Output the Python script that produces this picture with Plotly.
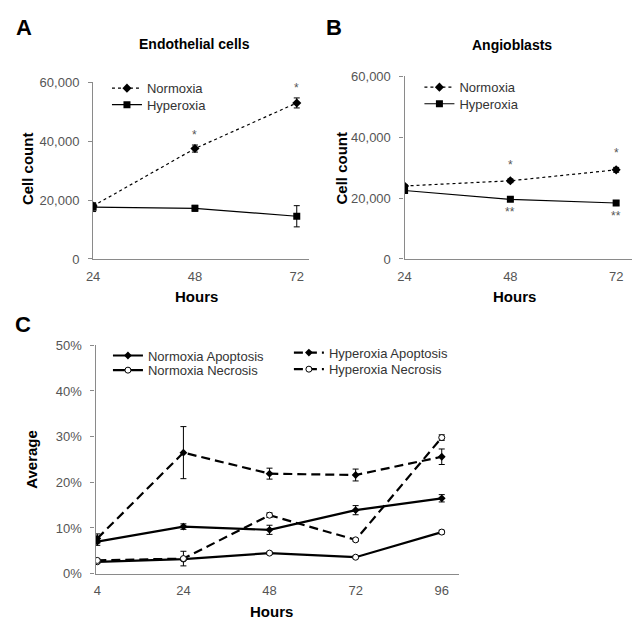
import plotly.graph_objects as go

# page geometry (reference pixel coordinates; the page body has an 8px margin)
W, H = 641, 636
OX, OY = 8, 8
FW, FH = W - 2 * OX, H - 2 * OY

# ---------------- data ----------------
hours_ab = ["24", "48", "72"]
endo_normoxia = [18000, 37500, 53000]
endo_normoxia_err = [800, 1200, 1700]
endo_hyperoxia = [17600, 17200, 14500]
endo_hyperoxia_err = [1500, 1000, 3600]
endo_sig_normoxia = ["", "*", "*"]

angio_normoxia = [24000, 25700, 29300]
angio_normoxia_err = [500, 600, 800]
angio_hyperoxia = [22500, 19600, 18400]
angio_hyperoxia_err = [700, 500, 700]
angio_sig_normoxia = ["", "*", "*"]
angio_sig_hyperoxia = ["", "**", "**"]

hours_c = ["4", "24", "48", "72", "96"]
norm_apoptosis = [7.0, 10.3, 9.6, 13.9, 16.5]
norm_apoptosis_err = [0.8, 0.6, 1.0, 1.0, 0.8]
norm_necrosis = [2.6, 3.2, 4.5, 3.6, 9.1]
norm_necrosis_err = [0.3, 0.3, 0.3, 0.3, 0.4]
hyp_apoptosis = [7.7, 26.5, 21.9, 21.6, 25.6]
hyp_apoptosis_err = [1.0, 5.7, 1.2, 1.3, 1.7]
hyp_necrosis = [2.9, 3.3, 12.8, 7.4, 29.8]
hyp_necrosis_err = [0.3, 1.6, 0.5, 0.3, 0.6]

# ---------------- helpers ----------------
def px(x):
    return (x - OX) / FW

def py(y):
    return 1 - (y - OY) / FH

FONT = "Liberation Sans, Arial, sans-serif"
AXC = "#8a8a8a"
TXT = "#555555"

fig = go.Figure()

def err(arr, w=3):
    return dict(type="data", array=arr, visible=True, color="black", thickness=1, width=w)

idx_ab = list(range(len(hours_ab)))
idx_c = list(range(len(hours_c)))

# Panel A
fig.add_trace(go.Scatter(x=idx_ab, y=endo_normoxia, error_y=err(endo_normoxia_err),
                         mode="lines+markers", name="Normoxia",
                         line=dict(color="black", width=1.2, dash="3px,3px"),
                         marker=dict(symbol="diamond", size=7, color="black"),
                         xaxis="x", yaxis="y", legend="legend"))
fig.add_trace(go.Scatter(x=idx_ab, y=endo_hyperoxia, error_y=err(endo_hyperoxia_err),
                         mode="lines+markers", name="Hyperoxia",
                         line=dict(color="black", width=1.2),
                         marker=dict(symbol="square", size=7, color="black"),
                         xaxis="x", yaxis="y", legend="legend2"))
# Panel B
fig.add_trace(go.Scatter(x=idx_ab, y=angio_normoxia, error_y=err(angio_normoxia_err),
                         mode="lines+markers", name="Normoxia",
                         line=dict(color="black", width=1.2, dash="3px,3px"),
                         marker=dict(symbol="diamond", size=7, color="black"),
                         xaxis="x2", yaxis="y2", legend="legend3"))
fig.add_trace(go.Scatter(x=idx_ab, y=angio_hyperoxia, error_y=err(angio_hyperoxia_err),
                         mode="lines+markers", name="Hyperoxia",
                         line=dict(color="black", width=1.2),
                         marker=dict(symbol="square", size=7, color="black"),
                         xaxis="x2", yaxis="y2", legend="legend4"))
# Panel C
fig.add_trace(go.Scatter(x=idx_c, y=norm_apoptosis, error_y=err(norm_apoptosis_err),
                         mode="lines+markers", name="Normoxia Apoptosis",
                         line=dict(color="black", width=2.2),
                         marker=dict(symbol="diamond", size=6, color="black"),
                         xaxis="x3", yaxis="y3", legend="legend5"))
fig.add_trace(go.Scatter(x=idx_c, y=norm_necrosis, error_y=err(norm_necrosis_err),
                         mode="lines+markers", name="Normoxia Necrosis",
                         line=dict(color="black", width=2.2),
                         marker=dict(symbol="circle", size=6, color="white",
                                     line=dict(color="black", width=1)),
                         xaxis="x3", yaxis="y3", legend="legend6"))
fig.add_trace(go.Scatter(x=idx_c, y=hyp_apoptosis, error_y=err(hyp_apoptosis_err),
                         mode="lines+markers", name="Hyperoxia Apoptosis",
                         line=dict(color="black", width=2.2, dash="9px,5px"),
                         marker=dict(symbol="diamond", size=6, color="black"),
                         xaxis="x3", yaxis="y3", legend="legend7"))
fig.add_trace(go.Scatter(x=idx_c, y=hyp_necrosis, error_y=err(hyp_necrosis_err),
                         mode="lines+markers", name="Hyperoxia Necrosis",
                         line=dict(color="black", width=2.2, dash="9px,5px"),
                         marker=dict(symbol="circle", size=6, color="white",
                                     line=dict(color="black", width=1)),
                         xaxis="x3", yaxis="y3", legend="legend8"))

# significance marks
ann = []
for i, s in enumerate(endo_sig_normoxia):
    if s:
        ann.append(dict(x=idx_ab[i], y=endo_normoxia[i] + endo_normoxia_err[i], xref="x", yref="y",
                        text=s, showarrow=False, yshift=10, font=dict(size=12, color=TXT, family=FONT)))
for i, s in enumerate(angio_sig_normoxia):
    if s:
        ann.append(dict(x=idx_ab[i], y=angio_normoxia[i] + angio_normoxia_err[i], xref="x2", yref="y2",
                        text=s, showarrow=False, yshift=14, font=dict(size=12, color=TXT, family=FONT)))
for i, s in enumerate(angio_sig_hyperoxia):
    if s:
        ann.append(dict(x=idx_ab[i], y=angio_hyperoxia[i] - angio_hyperoxia_err[i], xref="x2", yref="y2",
                        text=s, showarrow=False, yshift=-11, font=dict(size=12, color=TXT, family=FONT)))

def txt(x, y, t, size=14, angle=0, bold=True, color="black"):
    ann.append(dict(x=px(x), y=py(y), xref="paper", yref="paper", text=f"<b>{t}</b>" if bold else t,
                    showarrow=False, textangle=angle, xanchor="center", yanchor="middle",
                    font=dict(size=size, color=color, family=FONT)))

txt(17, 21, "A", size=22)
txt(331, 21, "B", size=22)
txt(16, 325, "C", size=22)
txt(190, 38, "Endothelial cells", size=14)
txt(511, 39, "Angioblasts", size=14)
txt(20, 165, "Cell count", size=15, angle=-90)
txt(338, 165, "Cell count", size=15, angle=-90)
txt(25, 463, "Average", size=15, angle=-90)
txt(192, 296, "Hours", size=15)
txt(513, 296, "Hours", size=15)
txt(267, 619, "Hours", size=15)

def xax(dom, rng, labels, anchor):
    return dict(domain=[px(dom[0]), px(dom[1])], range=rng, tickvals=list(range(len(labels))),
                ticktext=labels, showline=True, linecolor=AXC, linewidth=1.3, ticks="outside",
                ticklen=5, tickcolor="rgba(0,0,0,0)", showgrid=False, zeroline=False,
                tickfont=dict(size=13, color=TXT, family=FONT), anchor=anchor, fixedrange=True)

def yax(dom, rng, dtick, anchor, fmt=None, suffix=None):
    d = dict(domain=[py(dom[1]), py(dom[0])], range=rng, dtick=dtick, showline=True, linecolor=AXC,
             linewidth=1.3, ticks="outside", ticklen=4, tickcolor=AXC, showgrid=False, zeroline=False,
             ticklabelstandoff=6,
             tickfont=dict(size=13, color=TXT, family=FONT), anchor=anchor, fixedrange=True)
    if fmt:
        d["tickformat"] = fmt
    if suffix:
        d["ticksuffix"] = suffix
    return d

legfont = dict(size=13, color="#333333", family=FONT)

def leg(text_x, y):
    return dict(x=px(text_x - 45), y=py(y), xanchor="left", yanchor="middle", font=legfont,
                bgcolor="rgba(0,0,0,0)", borderwidth=0, itemclick=False, itemdoubleclick=False)

fig.update_layout(
    width=FW, height=FH, margin=dict(l=0, r=0, t=0, b=0),
    paper_bgcolor="white", plot_bgcolor="white",
    font=dict(family=FONT),
    xaxis=xax((87, 305), [0, 2.117], hours_ab, "y"),
    yaxis=yax((77, 258), [0, 60000], 20000, "x", fmt=",d"),
    xaxis2=xax((402, 632), [0, 2.15], hours_ab, "y2"),
    yaxis2=yax((71, 258), [0, 60000], 20000, "x2", fmt=",d"),
    xaxis3=xax((89.5, 457), [-0.02, 4.2], hours_c, "y3"),
    yaxis3=yax((346.5, 580.5), [0, 50], 10, "x3", suffix="%"),
    legend=leg(146, 83),
    legend2=leg(146, 100),
    legend3=leg(462, 82),
    legend4=leg(462, 99),
    legend5=leg(147, 357),
    legend6=leg(147, 372),
    legend7=leg(330, 354),
    legend8=leg(330, 371),
    annotations=ann,
    showlegend=True,
)

fig.write_html("out.html")
